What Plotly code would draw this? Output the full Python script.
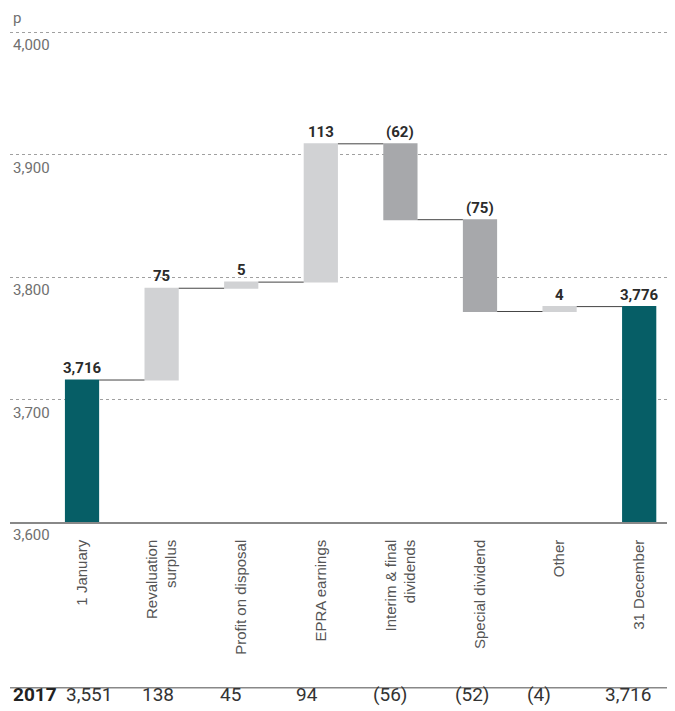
import plotly.graph_objects as go

categories = ["1 January", "Revaluation<br>surplus", "Profit on disposal", "EPRA earnings",
              "Interim & final<br>dividends", "Special dividend", "Other", "31 December"]
changes = [3716, 75, 5, 113, -62, -75, 4, 3776]
measures = ["absolute", "relative", "relative", "relative", "relative", "relative", "relative", "total"]
bar_labels = ["3,716", "75", "5", "113", "(62)", "(75)", "4", "3,776"]
prior_year_label = "2017"
prior_year = ["3,551", "138", "45", "94", "(56)", "(52)", "(4)", "3,716"]
y_ticks = [3600, 3700, 3800, 3900, 4000]
y_ticktext = ["3,600", "3,700", "3,800", "3,900", "4,000"]

TEAL = "#065E66"
LIGHT = "#D1D2D4"
DARK = "#A7A8AB"

x_idx = list(range(len(categories)))

fig = go.Figure(go.Waterfall(
    x=x_idx,
    y=changes,
    measure=measures,
    base=0,
    width=0.43,
    increasing=dict(marker=dict(color=LIGHT)),
    decreasing=dict(marker=dict(color=DARK)),
    totals=dict(marker=dict(color=TEAL)),
    connector=dict(line=dict(color="#444444", width=1), mode="between"),
    hoverinfo="skip",
))

# compute bar tops for labels
tops = []
running = 0
for m, v in zip(measures, changes):
    if m == "absolute":
        running = v
        tops.append(v)
    elif m == "total":
        tops.append(running)
    else:
        prev = running
        running += v
        tops.append(max(prev, running))

annotations = []
for i, (t, lab) in enumerate(zip(tops, bar_labels)):
    annotations.append(dict(x=i, y=t, xref="x", yref="y", text=f"<b>{lab}</b>",
                            showarrow=False, yanchor="bottom", yshift=1,
                            font=dict(family="Roboto", size=15, color="#2b2b2b")))

for yv, txt in zip(y_ticks, y_ticktext):
    annotations.append(dict(x=0, y=yv, xref="paper", yref="y", text=txt, showarrow=False,
                            xanchor="left", yanchor="top", xshift=1, yshift=-2,
                            font=dict(family="Roboto", size=15, color="#707070")))

annotations.append(dict(x=0, y=4000, xref="paper", yref="y", text="p", showarrow=False,
                        xanchor="left", yanchor="bottom", xshift=1, yshift=3,
                        font=dict(family="Roboto", size=15, color="#707070")))

ROW_Y = -0.378
annotations.append(dict(x=0, y=ROW_Y, xref="paper", yref="paper", text=f"<b>{prior_year_label}</b>",
                        showarrow=False, xanchor="left", yanchor="bottom", xshift=1,
                        font=dict(family="Roboto", size=19, color="#222222")))
row_shift = [7, -4, -11, -14, -10, -8, -21, -11]
for i, txt in enumerate(prior_year):
    annotations.append(dict(x=i, y=ROW_Y, xref="x", yref="paper", text=txt, showarrow=False,
                            xanchor="center", yanchor="bottom", xshift=row_shift[i],
                            font=dict(family="Roboto", size=19, color="#333333")))

fig.update_layout(
    width=667, height=703,
    margin=dict(l=2, r=0, t=22, b=189),
    paper_bgcolor="white", plot_bgcolor="white",
    showlegend=False,
    annotations=annotations,
    shapes=[dict(type="line", xref="paper", yref="paper", x0=0, x1=1, y0=-0.337, y1=-0.337,
                 line=dict(color="#888888", width=1.5))],
    xaxis=dict(
        tickmode="array", tickvals=x_idx, ticktext=categories,
        tickangle=-90, range=[-0.905, 7.45],
        showgrid=False, showline=True, linecolor="#888888", linewidth=1.5,
        ticks="", ticklabelstandoff=10,
        tickfont=dict(family="Liberation Sans", size=15, color="#555555"),
    ),
    yaxis=dict(
        range=[3600, 4002], tickvals=y_ticks, showticklabels=False,
        showgrid=True, gridcolor="#A0A0A0", griddash="dot", gridwidth=1,
        zeroline=False, showline=False,
    ),
)

fig.write_html("out.html")
